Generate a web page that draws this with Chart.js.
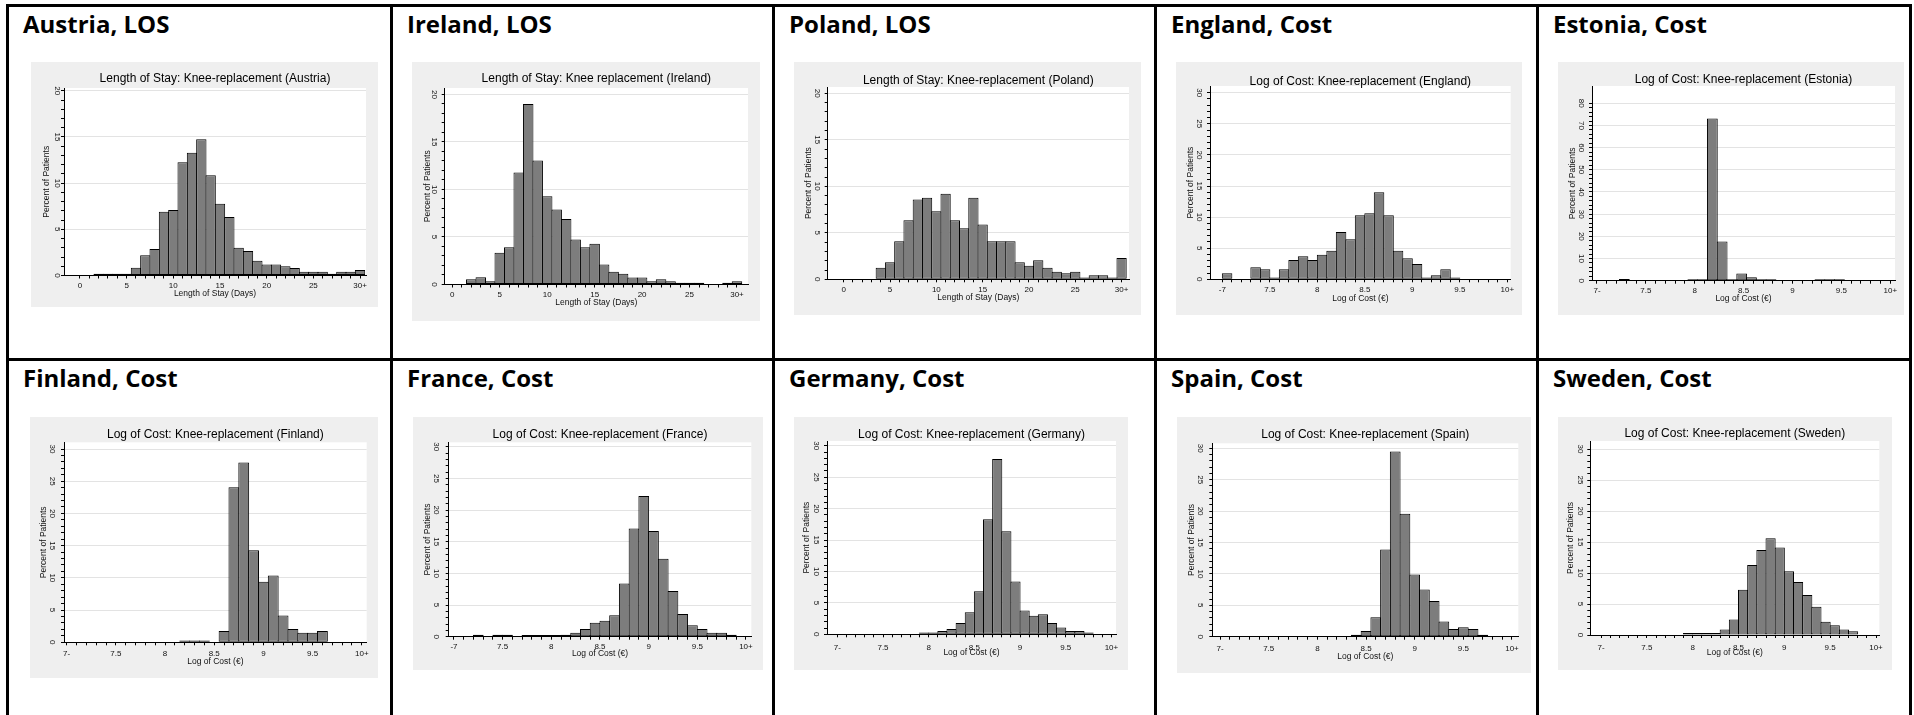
<!DOCTYPE html>
<html>
<head>
<meta charset="utf-8">
<title>Knee replacement: length of stay and cost</title>
<script src="https://cdn.jsdelivr.net/npm/chart.js@4.4.1/dist/chart.umd.min.js"></script>
<style>
  html, body { margin: 0; padding: 0; background: #fff; }
  #page { position: relative; width: 1914px; height: 715px; overflow: hidden; background: #fff; }
  .rule { position: absolute; background: #000; }
  .head { position: absolute; font-family: 'Open Sans', 'Noto Sans', sans-serif; font-weight: 700;
          font-size: 24px; line-height: 24px; color: #000; white-space: nowrap; }
  .frame { position: absolute; background: #efefef; }
  .frame canvas { display: block; }
</style>
</head>
<body>
<div id="page"></div>
<script>
// ---------------------------------------------------------------------------
// Data: percent of patients per histogram bin
// ---------------------------------------------------------------------------

// Length of stay bins (days, bin centres); the last bin holds 30 days and over
const LOS_DAYS = [0,1,2,3,4,5,6,7,8,9,10,11,12,13,14,15,16,17,18,19,20,21,22,23,24,25,26,27,28,29,30];
const LOS_TICKS = [0,5,10,15,20,25,30];
const LOS_TICK_LABELS = ['0','5','10','15','20','25','30+'];

// Log-cost bin centres (bin width 0.1)
const COST_BINS_A = [7.05,7.15,7.25,7.35,7.45,7.55,7.65,7.75,7.85,7.95,8.05,8.15,8.25,8.35,8.45,8.55,8.65,8.75,8.85,8.95,9.05,9.15,9.25,9.35,9.45,9.55,9.65,9.75,9.85,9.95];
const COST_BINS_B = [7.0,7.1,7.2,7.3,7.4,7.5,7.6,7.7,7.8,7.9,8.0,8.1,8.2,8.3,8.4,8.5,8.6,8.7,8.8,8.9,9.0,9.1,9.2,9.3,9.4,9.5,9.6,9.7,9.8,9.9];
const COST_BINS_C = [7.08,7.18,7.28,7.38,7.48,7.58,7.68,7.78,7.88,7.98,8.08,8.18,8.28,8.38,8.48,8.58,8.68,8.78,8.88,8.98,9.08,9.18,9.28,9.38,9.48,9.58,9.68,9.78,9.88,9.98];
const COST_TICKS = [7,7.5,8,8.5,9,9.5,10];
const COST_TICK_LABELS = ['7-','7.5','8','8.5','9','9.5','10+'];
const COST_TICK_LABELS_MINUS = ['-7','7.5','8','8.5','9','9.5','10+'];

const PCT_TICKS_20 = [0,5,10,15,20];
const PCT_TICKS_30 = [0,5,10,15,20,25,30];
const PCT_TICKS_80 = [0,10,20,30,40,50,60,70,80];

const AUSTRIA_LOS = [0,0,0.2,0.2,0.2,0.2,0.83,2.2,2.86,6.9,7.1,12.26,13.3,14.75,10.85,7.78,6.33,3.0,2.64,1.6,1.2,1.2,1.0,0.8,0.4,0.4,0.4,0.2,0.4,0.4,0.6];
const IRELAND_LOS = [0,0,0.56,0.77,0.35,3.33,3.93,11.8,19.0,13.05,9.3,7.9,6.9,4.74,3.93,4.3,2.1,1.33,1.12,0.74,0.74,0.35,0.56,0.35,0.18,0.18,0.18,0,0,0.18,0.35];
const POLAND_LOS = [0,0,0,0,1.25,1.83,4.1,6.35,8.57,8.78,7.31,9.2,6.35,5.48,8.78,5.9,4.1,4.1,4.1,1.83,1.47,2.04,1.25,0.82,0.65,0.82,0.2,0.43,0.43,0.2,2.3];

const ENGLAND_COST = [0.96,0,0.1,1.93,1.6,0.3,1.6,3.1,3.7,3.1,3.96,4.6,7.6,6.43,10.3,10.6,14.0,10.3,4.6,3.37,2.46,0.3,0.64,1.6,0.3,0,0,0,0,0];
const ESTONIA_COST = [0,0,0.75,0,0,0,0,0,0,0.6,0.6,73.2,17.7,0.6,3.3,1.5,0.6,0.6,0,0,0,0,0.6,0.6,0.6,0,0,0,0,0];
const FINLAND_COST = [0,0,0,0,0,0,0,0,0,0,0,0,0.26,0.26,0.26,0,1.76,24.06,27.9,14.3,9.4,10.35,4.14,2.07,1.5,1.5,1.76,0,0,0];
const FRANCE_COST = [0,0,0.3,0,0.3,0.3,0,0.25,0.25,0.25,0.25,0.3,0.63,1.2,2.2,2.5,3.4,8.4,17.1,22.2,16.7,12.3,7.2,3.6,1.8,1.2,0.63,0.63,0.3,0];
const GERMANY_COST = [0,0,0,0,0,0,0,0,0,0.27,0.27,0.53,0.85,1.8,3.5,6.84,18.3,27.9,16.4,8.4,3.8,2.97,3.2,1.8,1.1,0.53,0.53,0.27,0,0];
const SPAIN_COST = [0,0,0,0,0,0,0,0,0,0,0,0,0,0,0.32,0.9,3.1,13.9,29.5,19.6,9.9,7.5,5.7,2.44,1.22,1.49,1.22,0.32,0,0];
const SWEDEN_COST = [0,0,0,0,0,0,0,0.1,0.1,0.32,0.32,0.32,0.32,0.9,2.5,7.3,11.3,13.7,15.6,14.1,10.3,8.55,6.45,4.57,2.15,1.56,0.9,0.6,0,0];

// ---------------------------------------------------------------------------
// Panel contents (built from the arrays above)
// ---------------------------------------------------------------------------
const LOS_X = { xTitle: 'Length of Stay (Days)', xTicks: LOS_TICKS, xLabels: LOS_TICK_LABELS, xMinor: 1, yTicks: PCT_TICKS_20, yMinor: 1 };
const COST_X = { xTitle: 'Log of Cost (\u20AC)', xTicks: COST_TICKS, xLabels: COST_TICK_LABELS, xMinor: 0.1, yTicks: PCT_TICKS_30, yMinor: 1 };

const PANELS = [
  { ...LOS_X, header: 'Austria, LOS', title: 'Length of Stay: Knee-replacement (Austria)', bins: LOS_DAYS, values: AUSTRIA_LOS },
  { ...LOS_X, header: 'Ireland, LOS', title: 'Length of Stay: Knee replacement (Ireland)', bins: LOS_DAYS, values: IRELAND_LOS },
  { ...LOS_X, header: 'Poland, LOS', title: 'Length of Stay: Knee-replacement (Poland)', bins: LOS_DAYS, values: POLAND_LOS },
  { ...COST_X, header: 'England, Cost', title: 'Log of Cost: Knee-replacement (England)', bins: COST_BINS_A, values: ENGLAND_COST, xLabels: COST_TICK_LABELS_MINUS },
  { ...COST_X, header: 'Estonia, Cost', title: 'Log of Cost: Knee-replacement (Estonia)', bins: COST_BINS_C, values: ESTONIA_COST, yTicks: PCT_TICKS_80, yMinor: 2 },
  { ...COST_X, header: 'Finland, Cost', title: 'Log of Cost: Knee-replacement (Finland)', bins: COST_BINS_B, values: FINLAND_COST },
  { ...COST_X, header: 'France, Cost', title: 'Log of Cost: Knee-replacement (France)', bins: COST_BINS_A, values: FRANCE_COST, xLabels: COST_TICK_LABELS_MINUS },
  { ...COST_X, header: 'Germany, Cost', title: 'Log of Cost: Knee-replacement (Germany)', bins: COST_BINS_A, values: GERMANY_COST },
  { ...COST_X, header: 'Spain, Cost', title: 'Log of Cost: Knee-replacement (Spain)', bins: COST_BINS_B, values: SPAIN_COST },
  { ...COST_X, header: 'Sweden, Cost', title: 'Log of Cost: Knee-replacement (Sweden)', bins: COST_BINS_A, values: SWEDEN_COST }
];

// ---------------------------------------------------------------------------
// Page layout (pixels)
// ---------------------------------------------------------------------------
const COL_LEFT = [8, 392, 774, 1156, 1538];
const ROW_TOP = [5, 359];
const HEAD_INSET = 15, HEAD_BASELINE = 28, HEAD_ASCENT = 21.3;

const FRAMES = [
  { col: 0, row: 0, box: [31, 62, 378, 307],   plot: [64, 88, 366, 275.5],       xRange: [-1.71, 30.64], yMax: 20.3,  titleY: 79,    xTickY: 285.7, xTitleY: 294,   yTickX: 57.5,   yTitleX: 47 },
  { col: 1, row: 0, box: [412, 62, 760, 321],  plot: [444.7, 88, 748, 284.5],    xRange: [-0.8, 31.16],  yMax: 20.68, titleY: 79,    xTickY: 295,   xTitleY: 303,   yTickX: 434.7,  yTitleX: 428 },
  { col: 2, row: 0, box: [794, 62, 1141, 315], plot: [827.7, 87, 1129, 279.3],   xRange: [-1.73, 30.8],  yMax: 20.68, titleY: 81,    xTickY: 289.3, xTitleY: 297.7, yTickX: 817.7,  yTitleX: 808.7 },
  { col: 3, row: 0, box: [1176, 62, 1522, 315],plot: [1210, 86, 1510.7, 279.3],  xRange: [6.87, 10.036], yMax: 31.08, titleY: 81.7,  xTickY: 290,   xTitleY: 298.3, yTickX: 1199,   yTitleX: 1190.7 },
  { col: 4, row: 0, box: [1558, 62, 1904, 315],plot: [1592, 86, 1895, 280.7],    xRange: [6.949, 10.048],yMax: 87.8,  titleY: 80,    xTickY: 290.7, xTitleY: 299,   yTickX: 1581,   yTitleX: 1572.7 },
  { col: 0, row: 1, box: [30, 417, 378, 678],  plot: [64, 442.3, 366.7, 642.3],  xRange: [6.973, 10.05], yMax: 31.04, titleY: 435,   xTickY: 654,   xTitleY: 661.7, yTickX: 52.3,   yTitleX: 43.3 },
  { col: 1, row: 1, box: [413, 417, 763, 670], plot: [448.7, 442.3, 751.3, 636.7],xRange: [6.946, 10.055],yMax: 30.7, titleY: 435,   xTickY: 646.7, xTitleY: 654,   yTickX: 436.3,  yTitleX: 428 },
  { col: 2, row: 1, box: [794, 417, 1128, 670],plot: [827, 441, 1116, 634.3],    xRange: [6.887, 10.05], yMax: 30.75, titleY: 435,   xTickY: 647.7, xTitleY: 652.3, yTickX: 816,    yTitleX: 807 },
  { col: 3, row: 1, box: [1177, 417, 1531, 673],plot: [1212.3, 443.3, 1518.3, 636.7], xRange: [6.92, 10.065], yMax: 30.8, titleY: 435, xTickY: 648.3, xTitleY: 656.7, yTickX: 1200, yTitleX: 1191.3 },
  { col: 4, row: 1, box: [1558, 417, 1892, 670],plot: [1590.3, 441, 1879.3, 635], xRange: [6.883, 10.036], yMax: 31.3, titleY: 433.7, xTickY: 647.3, xTitleY: 652.3, yTickX: 1580, yTitleX: 1571 }
];

// ---------------------------------------------------------------------------
// Styling
// ---------------------------------------------------------------------------
const FONT = "'Liberation Sans', Arial, Helvetica, sans-serif";
const TICK_LEN = 3;
const TITLE_SIZE = 12, X_TICK_SIZE = 8, Y_TICK_SIZE = 8, X_TITLE_SIZE = 8.5, Y_TITLE_SIZE = 8.5;
const BAR_FILL = '#7d7d7d', BAR_EDGE = '#000', GRID = '#e3e3e3', INK = '#111';

Chart.defaults.font.family = FONT;
Chart.defaults.color = INK;

const page = document.getElementById('page');

function addRule(x, y, w, h) {
  const d = document.createElement('div');
  d.className = 'rule';
  Object.assign(d.style, { left: x + 'px', top: y + 'px', width: w + 'px', height: h + 'px' });
  page.appendChild(d);
}

// table rules
[[6, 4, 1906, 3], [6, 4, 3, 711], [390, 4, 3, 711], [772, 4, 3, 711], [1154, 4, 3, 711],
 [1536, 4, 3, 711], [1909, 4, 3, 711], [6, 358, 1906, 3]].forEach(r => addRule(...r));

const measureCtx = document.createElement('canvas').getContext('2d');
function textWidth(txt, size) {
  measureCtx.font = 'normal normal ' + size + 'px ' + FONT;
  return measureCtx.measureText(txt).width;
}

function axisTicks(from, to, step) {
  const out = [];
  const n = Math.round((to - from) / step);
  for (let i = 0; i <= n; i++) out.push(+(from + i * step).toFixed(4));
  return out;
}
const near = (list, v) => list.findIndex(m => Math.abs(m - v) < 1e-6);

// white plot region behind the bars
const plotBackground = {
  id: 'plotBackground',
  beforeDraw(chart) {
    const { ctx, chartArea: a } = chart;
    ctx.save();
    ctx.fillStyle = '#fff';
    ctx.fillRect(a.left, a.top, a.right - a.left, a.bottom - a.top);
    ctx.restore();
  }
};

function drawPanel(content, frame) {
  const [bx0, by0, bx1, by1] = frame.box;
  const [px0, py0, px1, py1] = frame.plot;
  const W = bx1 - bx0, H = by1 - by0;
  const L = px0 - bx0, T = py0 - by0, R = px1 - bx0, B = py1 - by0;

  const head = document.createElement('div');
  head.className = 'head';
  head.textContent = content.header;
  head.style.left = (COL_LEFT[frame.col] + HEAD_INSET) + 'px';
  head.style.top = (ROW_TOP[frame.row] + HEAD_BASELINE - HEAD_ASCENT) + 'px';
  page.appendChild(head);

  const box = document.createElement('div');
  box.className = 'frame';
  Object.assign(box.style, { left: bx0 + 'px', top: by0 + 'px', width: W + 'px', height: H + 'px' });
  const canvas = document.createElement('canvas');
  canvas.width = W; canvas.height = H;
  canvas.style.width = W + 'px'; canvas.style.height = H + 'px';
  box.appendChild(canvas);
  page.appendChild(box);

  const [xmin, xmax] = frame.xRange;
  const binWidth = content.bins[1] - content.bins[0];
  const binPx = (R - L) * binWidth / (xmax - xmin);

  const xMajor = content.xTicks;
  const xAll = axisTicks(xMajor[0], xMajor[xMajor.length - 1], content.xMinor);
  const yMajor = content.yTicks;
  const yAll = axisTicks(0, yMajor[yMajor.length - 1], content.yMinor);
  const widest = Math.max(...yMajor.map(v => textWidth(String(v), Y_TICK_SIZE)));

  const titleLine = TITLE_SIZE * 1.2;
  const titlePadTop = (frame.titleY - by0) - titleLine / 2;
  const titlePadBottom = T - titlePadTop - titleLine;
  const xTickPad = (frame.xTickY - by0) - B - TICK_LEN - X_TICK_SIZE * 1.2 / 2;
  const xTitlePad = H - (frame.xTitleY - by0) - X_TITLE_SIZE * 1.2 / 2;
  const yTickPad = L - TICK_LEN - widest / 2 - (frame.yTickX - bx0);
  const yTitlePad = (frame.yTitleX - bx0) - Y_TITLE_SIZE * 1.2 / 2;

  new Chart(canvas, {
    type: 'bar',
    data: {
      datasets: [{
        data: content.bins.map((x, i) => ({ x, y: content.values[i] })),
        backgroundColor: BAR_FILL,
        borderColor: BAR_EDGE,
        borderWidth: 1,
        borderSkipped: false,
        grouped: false,
        categoryPercentage: 1,
        barPercentage: 1 + 1 / binPx
      }]
    },
    options: {
      responsive: false,
      devicePixelRatio: 1,
      animation: false,
      events: [],
      layout: { autoPadding: false, padding: { left: 0, top: 0, right: W - R, bottom: 0 } },
      plugins: {
        legend: { display: false },
        tooltip: { enabled: false },
        title: {
          display: true, text: content.title, fullSize: false, color: '#000',
          font: { size: TITLE_SIZE, weight: 'normal' },
          padding: { top: titlePadTop, bottom: titlePadBottom }
        }
      },
      scales: {
        x: {
          type: 'linear', min: xmin, max: xmax, offset: false,
          afterBuildTicks: s => { s.ticks = xAll.map(v => ({ value: v })); },
          afterFit: s => { s.height = H - B; s.paddingLeft = 0; s.paddingRight = 0; },
          ticks: {
            autoSkip: false, minRotation: 0, maxRotation: 0, padding: xTickPad,
            font: { size: X_TICK_SIZE }, color: INK,
            callback: v => { const k = near(xMajor, v); return k >= 0 ? content.xLabels[k] : ''; }
          },
          grid: { offset: false, drawOnChartArea: false, drawTicks: true, tickLength: TICK_LEN,
                  tickColor: '#000', tickWidth: 1, color: 'rgba(0,0,0,0)' },
          border: { display: true, color: '#000', width: 1 },
          title: { display: true, text: content.xTitle, color: INK, font: { size: X_TITLE_SIZE },
                   padding: { top: 0, bottom: xTitlePad } }
        },
        y: {
          type: 'linear', min: 0, max: frame.yMax,
          afterBuildTicks: s => { s.ticks = yAll.map(v => ({ value: v })); },
          afterFit: s => { s.width = L; s.paddingTop = 0; s.paddingBottom = 0; },
          ticks: {
            autoSkip: false, minRotation: -90, maxRotation: -90, crossAlign: 'center', padding: yTickPad,
            font: { size: Y_TICK_SIZE }, color: INK,
            callback: v => (near(yMajor, v) >= 0 ? String(yMajor[near(yMajor, v)]) : '')
          },
          grid: {
            drawTicks: true, tickLength: TICK_LEN, tickColor: '#000', tickWidth: 1, lineWidth: 1,
            color: c => (c.tick && c.tick.value > 0 && near(yMajor, c.tick.value) >= 0) ? GRID : 'rgba(0,0,0,0)'
          },
          border: { display: true, color: '#000', width: 1 },
          title: { display: true, text: 'Percent of Patients', color: INK, font: { size: Y_TITLE_SIZE },
                   padding: { top: yTitlePad, bottom: 0 } }
        }
      }
    },
    plugins: [plotBackground]
  });
}

PANELS.forEach((p, i) => drawPanel(p, FRAMES[i]));
</script>
</body>
</html>
